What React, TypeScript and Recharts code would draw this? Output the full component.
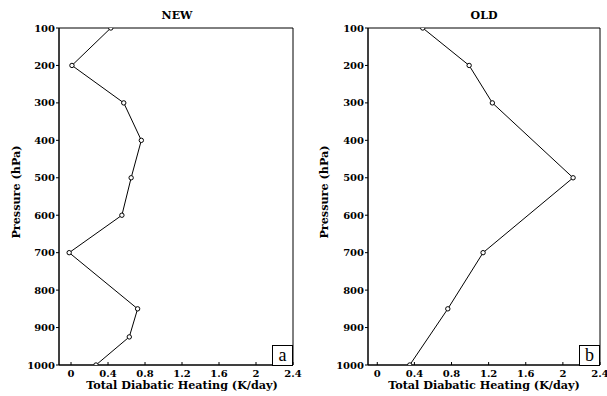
import React from 'react';
import { ScatterChart, Scatter, XAxis, YAxis, ReferenceArea } from 'recharts';

// Profile "NEW" (panel a)
const pressureNew = [100, 200, 300, 400, 500, 600, 700, 850, 925, 1000];
const heatingNew = [0.43, 0.01, 0.57, 0.76, 0.65, 0.55, -0.02, 0.72, 0.63, 0.27];

// Profile "OLD" (panel b)
const pressureOld = [100, 200, 300, 500, 700, 850, 1000];
const heatingOld = [0.49, 0.99, 1.24, 2.11, 1.14, 0.76, 0.35];

const xTicks = [0, 0.4, 0.8, 1.2, 1.6, 2, 2.4];
const yTicks = [100, 200, 300, 400, 500, 600, 700, 800, 900, 1000];

const panelTitles = ['NEW', 'OLD'];
const panelLetters = ['a', 'b'];
const xLabel = 'Total Diabatic Heating (K/day)';
const yLabel = 'Pressure (hPa)';

const FONT = '"DejaVu Serif", serif';

const newData = pressureNew.map((p, i) => ({ p, x: heatingNew[i] }));
const oldData = pressureOld.map((p, i) => ({ p, x: heatingOld[i] }));

const Dot = (props: any) => {
  const { cx, cy } = props;
  if (cx == null || cy == null) return null;
  return <circle cx={cx} cy={cy} r={2.2} fill="#fff" stroke="#000" strokeWidth={1} />;
};

const XTick = (props: any) => {
  const { x, y, payload } = props;
  return (
    <g>
      <line x1={x} x2={x} y1={y} y2={y - 3} stroke="#000" strokeWidth={1} />
      <text
        x={x}
        y={y + 12}
        textAnchor="middle"
        fontFamily={FONT}
        fontWeight="bold"
        fontSize={10}
        fill="#000"
      >
        {String(payload.value)}
      </text>
    </g>
  );
};

type PanelProps = {
  data: { p: number; x: number }[];
  left: number;
  width: number;
  rightMargin: number;
  yAxisWidth: number;
  xMin: number;
};

const Panel = ({ data, left, width, rightMargin, yAxisWidth, xMin }: PanelProps) => (
  <div style={{ position: 'absolute', left, top: 0 }}>
    <ScatterChart
      width={width}
      height={396}
      margin={{ top: 28, right: rightMargin, bottom: 0, left: 0 }}
    >
      <XAxis
        dataKey="x"
        type="number"
        domain={[xMin, 2.4]}
        ticks={xTicks}
        allowDataOverflow
        height={31}
        tickSize={0}
        tickMargin={0}
        tickLine={false}
        axisLine={{ stroke: '#000' }}
        tick={<XTick />}
        interval={0}
      />
      <YAxis
        dataKey="p"
        type="number"
        domain={[100, 1000]}
        ticks={yTicks}
        reversed
        allowDataOverflow
        width={yAxisWidth}
        tickSize={3}
        tickMargin={1}
        interval={0}
        axisLine={{ stroke: '#000' }}
        tickLine={{ stroke: '#000' }}
        tick={{ fontFamily: FONT, fontWeight: 'bold', fontSize: 10, fill: '#000' }}
      />
      <ReferenceArea
        x1={xMin}
        x2={2.4}
        y1={100}
        y2={1000}
        fill="none"
        stroke="#000"
        strokeWidth={1}
      />
      <Scatter
        data={data}
        line={{ stroke: '#000', strokeWidth: 1 }}
        shape={<Dot />}
        isAnimationActive={false}
      />
    </ScatterChart>
  </div>
);

const textStyle: React.CSSProperties = {
  position: 'absolute',
  fontFamily: FONT,
  fontWeight: 'bold',
  fontSize: 11.2,
  color: '#000',
  whiteSpace: 'nowrap',
  lineHeight: 1,
};

const LetterBox = ({ left, letter }: { left: number; letter: string }) => (
  <div
    style={{
      position: 'absolute',
      left,
      top: 345,
      width: 21,
      height: 21,
      boxSizing: 'border-box',
      border: '1px solid #000',
      background: '#fff',
      fontFamily: '"Liberation Serif", serif',
      fontSize: 18,
      lineHeight: '18px',
      textAlign: 'center',
    }}
  >
    {letter}
  </div>
);

export default function App() {
  return (
    <div
      style={{
        position: 'absolute',
        left: 0,
        top: 0,
        width: 607,
        height: 396,
        background: '#fff',
        overflow: 'hidden',
      }}
    >
      <Panel data={newData} left={0} width={310} rightMargin={17} yAxisWidth={59} xMin={-0.13} />
      <Panel data={oldData} left={300} width={307} rightMargin={7} yAxisWidth={68} xMin={-0.1} />

      <div style={{ ...textStyle, fontSize: 11, left: 177, top: 15, transform: 'translate(-50%, -50%)' }}>
        {panelTitles[0]}
      </div>
      <div style={{ ...textStyle, fontSize: 11, left: 484, top: 15, transform: 'translate(-50%, -50%)' }}>
        {panelTitles[1]}
      </div>

      <div style={{ ...textStyle, left: 182, top: 386, transform: 'translate(-50%, -50%)' }}>{xLabel}</div>
      <div style={{ ...textStyle, left: 484, top: 386, transform: 'translate(-50%, -50%)' }}>{xLabel}</div>

      <div style={{ ...textStyle, left: 17, top: 192, transform: 'translate(-50%, -50%) rotate(-90deg)' }}>
        {yLabel}
      </div>
      <div style={{ ...textStyle, left: 325, top: 192, transform: 'translate(-50%, -50%) rotate(-90deg)' }}>
        {yLabel}
      </div>

      <LetterBox left={272} letter={panelLetters[0]} />
      <LetterBox left={579} letter={panelLetters[1]} />
    </div>
  );
}
